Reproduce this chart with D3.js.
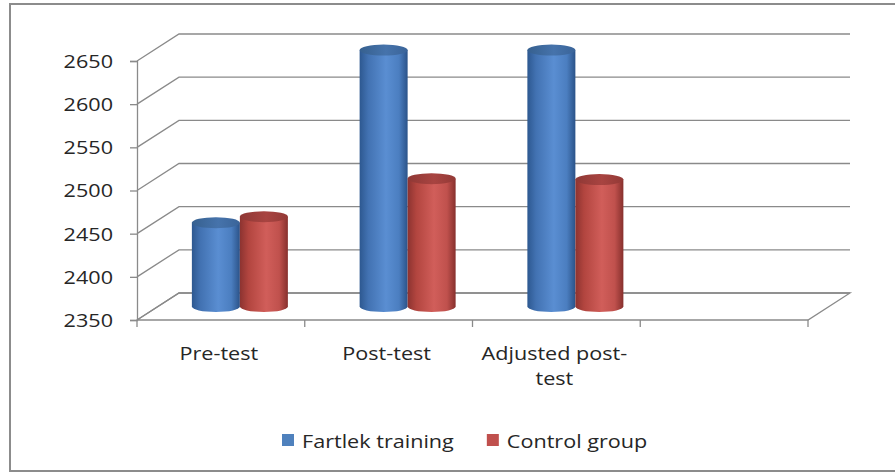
<!DOCTYPE html>
<html>
<head>
<meta charset="utf-8">
<script src="https://cdn.jsdelivr.net/npm/d3@7/dist/d3.min.js"></script>
<style>
  html, body { margin: 0; padding: 0; background: #fff; }
  svg { display: block; }
  text { font-family: "Open Sans", "DejaVu Sans", sans-serif; fill: #262626; }
</style>
</head>
<body>
<svg id="chart" width="895" height="472"></svg>
<script>
// Mean values per test phase
const categories = ["Pre-test", "Post-test", "Adjusted post-test", ""];
const seriesNames = ["Fartlek training", "Control group"];
const fartlek = [2447, 2647, 2647];
const control = [2454, 2498, 2497];
const yTicks = [2350, 2400, 2450, 2500, 2550, 2600, 2650];

const series = [
  { name: seriesNames[0], values: fartlek, key: "blue" },
  { name: seriesNames[1], values: control, key: "red" }
];

const svg = d3.select("#chart");
const W = 895, H = 472;

// plot geometry (front plane) and 3-D depth offset
const plot = { left: 137, right: 808, top: 61, bottom: 320 };
const depth = { dx: 42, dy: -27 };
const stretch = 1.2;      // horizontal text stretch
const fontSize = 18;
const gridColor = "#8a8a8a";

const x = d3.scaleBand().domain(categories).range([plot.left, plot.right]);
const y = d3.scaleLinear().domain([2350, 2650]).range([plot.bottom, plot.top]);

// outer frame
svg.append("rect")
  .attr("x", 10).attr("y", 4).attr("width", W).attr("height", 467)
  .attr("fill", "#fff").attr("stroke", "#8c8c8c").attr("stroke-width", 2);

// gradients for the cylinder bodies and tops
const defs = svg.append("defs");
const palettes = {
  blue: { body: ["#2d5890", "#4272b2", "#5a8ed2", "#4b7ec0", "#2b5389"], top: ["#36608f", "#4673ab", "#3a6499"] },
  red:  { body: ["#8c3330", "#b2453f", "#d15e5a", "#c0514d", "#87302d"], top: ["#8f3835", "#a84441", "#933936"] }
};
Object.entries(palettes).forEach(([k, p]) => {
  const g = defs.append("linearGradient").attr("id", "body-" + k)
    .attr("x1", 0).attr("x2", 1).attr("y1", 0).attr("y2", 0);
  [0, 0.18, 0.55, 0.82, 1].forEach((o, i) =>
    g.append("stop").attr("offset", o).attr("stop-color", p.body[i]));
  const t = defs.append("linearGradient").attr("id", "top-" + k)
    .attr("x1", 0).attr("x2", 1).attr("y1", 0).attr("y2", 0);
  [0, 0.55, 1].forEach((o, i) =>
    t.append("stop").attr("offset", o).attr("stop-color", p.top[i]));
});

// floor outline
const floorY = y(2350);
svg.append("path")
  .attr("d", `M${plot.left},${floorY}L${plot.right},${floorY}` +
    `L${plot.right + depth.dx},${floorY + depth.dy}` +
    `L${plot.left + depth.dx},${floorY + depth.dy}Z`)
  .attr("fill", "none").attr("stroke", gridColor).attr("stroke-width", 1.3);

// gridlines: left side wall diagonal + back wall horizontal
svg.append("g").selectAll("path").data(yTicks).join("path")
  .attr("d", d => `M${plot.left},${y(d)}L${plot.left + depth.dx},${y(d) + depth.dy}` +
    `L${plot.right + depth.dx},${y(d) + depth.dy}`)
  .attr("fill", "none").attr("stroke", gridColor).attr("stroke-width", 1.3);

// value axis
const yAxis = d3.axisLeft(y).tickValues(yTicks).tickSize(7).tickPadding(0).tickFormat(d3.format("d"));
const gy = svg.append("g").attr("transform", `translate(${plot.left},0)`).call(yAxis);
gy.select(".domain").attr("stroke", gridColor).attr("stroke-width", 1.3);
gy.selectAll(".tick line").attr("stroke", gridColor).attr("stroke-width", 1.3);
gy.selectAll(".tick text").remove();
gy.selectAll(".tick").append("g")
  .attr("transform", `translate(-24,0) scale(${stretch},1)`)
  .append("text")
  .attr("text-anchor", "end").attr("dy", "0.36em")
  .style("font-size", fontSize + "px")
  .text(d => d3.format("d")(d));

// category axis: ticks at band boundaries
const bounds = categories.map(c => x(c)).concat([plot.right]);
svg.append("g").selectAll("line").data(bounds).join("line")
  .attr("x1", d => d).attr("x2", d => d)
  .attr("y1", floorY).attr("y2", floorY + 7)
  .attr("stroke", gridColor).attr("stroke-width", 1.3);

// category labels, wrapped within the band width
const catG = svg.append("g");
categories.forEach(c => {
  if (!c) return;
  const g = catG.append("g")
    .attr("transform", `translate(${x(c) + x.bandwidth() / 2 - 2},360) scale(${stretch},1)`);
  const t = g.append("text").attr("text-anchor", "middle").style("font-size", fontSize + "px");
  const parts = c.split(/(?<=[-\s])/);
  let lines = [], cur = "";
  const probe = t.append("tspan");
  parts.forEach(p => {
    const trial = cur + p;
    probe.text(trial.trim());
    if (cur && probe.node().getComputedTextLength() * stretch > x.bandwidth() - 10) {
      lines.push(cur.trim()); cur = p;
    } else cur = trial;
  });
  lines.push(cur.trim());
  probe.remove();
  lines.forEach((l, i) => t.append("tspan").attr("x", 0).attr("dy", i ? 25 : 0).text(l));
});

// cylinders, placed at mid depth
const cylW = 48, rx = cylW / 2, ry = 5.5;
const yMid = v => y(v) + depth.dy / 2;
const barsG = svg.append("g");
series.forEach((s, j) => {
  s.values.forEach((v, i) => {
    const c = categories[i];
    const cx = x(c) + x.bandwidth() / 2 + depth.dx / 2 - 2 + (j - 0.5) * cylW;
    const yt = yMid(v), yb = yMid(2350);
    const l = cx - rx, r = cx + rx;
    barsG.append("path")
      .attr("d", `M${l},${yt}L${l},${yb}A${rx},${ry} 0 0 0 ${r},${yb}L${r},${yt}Z`)
      .attr("fill", `url(#body-${s.key})`);
    barsG.append("ellipse")
      .attr("cx", cx).attr("cy", yt).attr("rx", rx).attr("ry", ry)
      .attr("fill", `url(#top-${s.key})`);
  });
});

// legend
const legend = svg.append("g").attr("transform", "translate(282,0)");
let lx = 0;
series.forEach(s => {
  legend.append("rect").attr("x", lx).attr("y", 434).attr("width", 12).attr("height", 12)
    .attr("fill", palettes[s.key].body[3] === "#4b7ec0" ? "#4f81bd" : "#c0504d");
  const tg = legend.append("g").attr("transform", `translate(${lx + 20},448) scale(${stretch},1)`);
  const t = tg.append("text").style("font-size", fontSize + "px").text(s.name);
  lx += 20 + t.node().getComputedTextLength() * stretch + 33;
});
</script>
</body>
</html>
